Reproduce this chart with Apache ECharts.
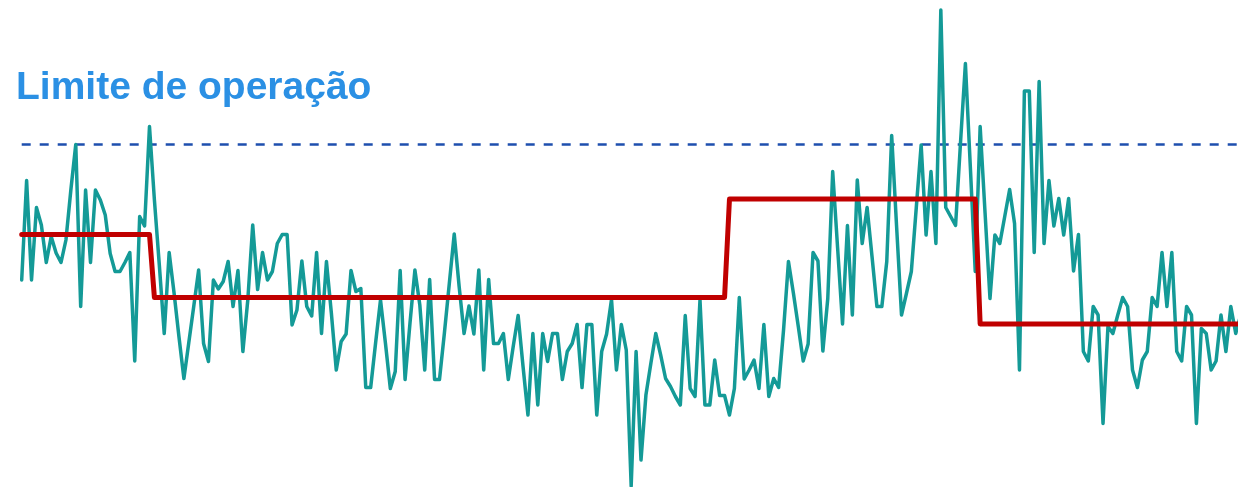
<!DOCTYPE html>
<html>
<head>
<meta charset="utf-8">
<script src="https://cdn.jsdelivr.net/npm/echarts@6/dist/echarts.min.js"></script>
<style>
html,body{margin:0;padding:0;background:#fff;}
#chart{width:1238px;height:487px;}
</style>
</head>
<body>
<div id="chart"></div>
<script>
// Measured signal (teal line), one value per sample
const signal = [
44.0,63.9,44.0,58.5,55.0,47.5,52.7,49.4,47.5,52.0,
62.0,71.1,38.7,62.0,47.5,62.0,60.0,57.0,49.3,45.7,
45.7,47.5,49.5,27.8,56.7,54.8,74.7,60.0,47.0,33.3,
49.5,41.4,32.6,24.3,31.5,38.7,46.0,31.3,27.7,44.0,
42.2,43.7,47.7,38.7,45.9,29.7,40.0,55.0,42.1,49.5,
44.0,45.7,51.3,53.1,53.1,35.0,38.0,47.8,38.7,36.8,
49.5,33.3,47.7,37.4,26.0,31.7,33.2,45.9,41.7,42.3,
22.5,22.5,31.4,40.0,31.4,22.3,25.7,45.9,24.1,35.4,
46.0,39.0,26.0,44.1,24.1,24.1,33.4,43.3,53.2,42.7,
33.3,38.8,33.2,46.0,26.0,44.1,31.3,31.3,33.3,24.1,
30.7,36.9,26.7,17.0,33.3,19.0,33.3,27.7,33.3,33.3,
24.1,29.7,31.3,35.1,22.5,35.1,35.1,17.0,29.7,33.2,
40.1,26.0,35.1,30.0,2.8,29.7,8.0,21.0,27.3,33.3,
29.0,24.3,22.7,20.7,19.0,36.9,22.3,20.7,40.0,19.0,
19.0,28.0,20.9,20.9,17.0,22.3,40.5,24.2,26.0,28.0,
22.3,35.1,20.7,24.3,22.5,34.0,47.7,41.4,34.7,27.8,
31.2,49.5,47.8,29.8,40.3,65.7,50.4,35.2,54.9,37.0,
64.0,51.3,58.5,48.7,38.7,38.7,47.7,72.9,54.7,37.0,
41.3,45.7,58.4,71.0,53.0,65.7,51.3,98.0,58.5,56.7,
54.9,71.4,87.3,66.7,45.7,74.7,57.4,40.3,53.0,51.3,
56.7,62.1,55.3,26.0,81.8,81.8,49.5,83.7,51.3,63.9,
54.8,60.3,53.0,60.3,45.8,53.1,29.7,27.8,38.7,37.0,
15.3,34.7,33.3,37.0,40.5,38.7,26.0,22.5,28.0,29.7,
40.5,38.7,49.5,38.7,49.5,29.7,27.8,38.7,37.0,15.3,
34.3,33.3,26.0,27.8,37.0,29.7,38.7,33.3,37.0
];
// Step reference (red line): level and the sample index where each level starts
const stepLevels = [53.1, 40.5, 60.2, 35.2];
const stepStarts = [0, 27, 144, 195];
// Operating limit (dashed line)
const limitValue = [71.1];
const limitLabel = ['Limite de operação'];

const signalData = signal.map((v, i) => [i, v]);
const stepData = signal.map((_, i) => {
  let k = 0;
  for (let s = 0; s < stepStarts.length; s++) if (i >= stepStarts[s]) k = s;
  return [i, stepLevels[k]];
});
const limitData = [[0, limitValue[0]], [signal.length - 1, limitValue[0]]];

const chart = echarts.init(document.getElementById('chart'), null, {renderer: 'canvas'});
chart.setOption({
  animation: false,
  backgroundColor: '#ffffff',
  title: {
    text: limitLabel[0],
    left: 16,
    top: 69,
    padding: 0,
    textStyle: {
      color: '#2b90e4',
      fontSize: 39,
      fontWeight: 'bold',
      fontFamily: 'Liberation Sans, Arial, sans-serif'
    }
  },
  grid: {left: 21.7, right: 0, top: 0, bottom: 0, containLabel: false},
  xAxis: {
    type: 'value', min: 0, max: 247.46, show: false,
    splitLine: {show: false}
  },
  yAxis: {
    type: 'value', min: 2.6, max: 100, show: false,
    splitLine: {show: false}
  },
  series: [
    {
      type: 'line', data: limitData, showSymbol: false, silent: true,
      lineStyle: {color: '#1e4fae', width: 2.5, type: [9, 9]}
    },
    {
      type: 'line', data: signalData, showSymbol: false, silent: true,
      lineStyle: {color: '#149a97', width: 3.5, join: 'round', cap: 'round'}
    },
    {
      type: 'line', data: stepData, showSymbol: false, silent: true,
      lineStyle: {color: '#c00000', width: 5, join: 'round', cap: 'round'}
    }
  ]
});
</script>
</body>
</html>
